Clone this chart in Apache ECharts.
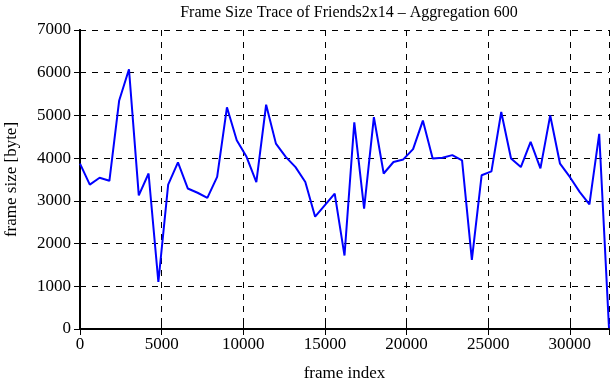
<!DOCTYPE html>
<html>
<head>
<meta charset="utf-8">
<script src="https://cdn.jsdelivr.net/npm/echarts@6/dist/echarts.min.js"></script>
<style>
html, body { margin: 0; padding: 0; background: #fff; }
#trace { width: 611px; height: 380px; }
</style>
</head>
<body>
<div id="trace"></div>
<script>
var frames = [0, 600, 1200, 1800, 2400, 3000, 3600, 4200, 4800, 5400,
    6000, 6600, 7200, 7800, 8400, 9000, 9600, 10200, 10800, 11400,
    12000, 12600, 13200, 13800, 14400, 15000, 15600, 16200, 16800, 17400,
    18000, 18600, 19200, 19800, 20400, 21000, 21600, 22200, 22800, 23400,
    24000, 24600, 25200, 25800, 26400, 27000, 27600, 28200, 28800, 29400,
    30000, 30600, 31200, 31800, 32400];
var frameSize = [3870, 3380, 3540, 3470, 5350, 6080, 3130, 3640, 1100, 3380,
    3900, 3290, 3190, 3070, 3560, 5190, 4420, 4030, 3440, 5250,
    4340, 4030, 3790, 3440, 2630, 2900, 3170, 1720, 4840, 2820,
    4960, 3640, 3910, 3970, 4210, 4880, 3990, 4010, 4070, 3950,
    1620, 3600, 3690, 5080, 3990, 3790, 4380, 3760, 5000, 3870,
    3560, 3210, 2920, 4570, 20];
var xTicks = [0, 5000, 10000, 15000, 20000, 25000, 30000];
var yTicks = [0, 1000, 2000, 3000, 4000, 5000, 6000, 7000];

var chart = echarts.init(document.getElementById('trace'));
var serif = 'Liberation Serif';
var points = frames.map(function (f, i) { return [f, frameSize[i]]; });

var hiddenAxis = {
    axisLine: { show: true, lineStyle: { color: '#000', width: 2 } },
    axisTick: { show: true, inside: true, length: 6, lineStyle: { color: '#000', width: 1 } },
    axisLabel: { show: false },
    splitLine: { show: false }
};

var option = {
    animation: false,
    backgroundColor: '#fff',
    title: {
        text: 'Frame Size Trace of Friends2x14 \u2013 Aggregation 600',
        left: 344,
        textAlign: 'center',
        top: 0,
        textStyle: { fontFamily: serif, fontWeight: 'normal', fontSize: 16, color: '#000' }
    },
    grid: { left: 80, right: 2, top: 30, bottom: 51, outerBoundsMode: 'none' },
    xAxis: [{
        type: 'value',
        min: 0,
        max: 32400,
        interval: 5000,
        name: 'frame index',
        nameLocation: 'middle',
        nameGap: 36,
        nameTextStyle: { fontFamily: serif, fontSize: 17, color: '#000' },
        axisLine: { show: true, lineStyle: { color: '#000', width: 2 } },
        axisTick: { show: true, inside: true, length: 6, lineStyle: { color: '#000' } },
        axisLabel: {
            fontFamily: serif, fontSize: 17, color: '#000', margin: 7,
            showMaxLabel: false,
            formatter: function (v) { return xTicks.indexOf(v) >= 0 ? String(v) : ''; }
        },
        splitLine: { show: true, lineStyle: { color: '#000', type: [6, 6], width: 1 } }
    }, Object.assign({
        type: 'value', position: 'top', min: 0, max: 32400, interval: 5000
    }, hiddenAxis)],
    yAxis: [{
        type: 'value',
        min: 0,
        max: 7000,
        interval: 1000,
        name: 'frame size [byte]',
        nameLocation: 'middle',
        nameGap: 60,
        nameTextStyle: { fontFamily: serif, fontSize: 17, color: '#000' },
        axisLine: { show: true, lineStyle: { color: '#000', width: 2 } },
        axisTick: { show: true, inside: true, length: 6, lineStyle: { color: '#000' } },
        axisLabel: {
            fontFamily: serif, fontSize: 17, color: '#000', margin: 9,
            formatter: function (v) { return yTicks.indexOf(v) >= 0 ? String(v) : ''; }
        },
        splitLine: { show: true, lineStyle: { color: '#000', type: [6, 6], width: 1 } }
    }, Object.assign({
        type: 'value', position: 'right', min: 0, max: 7000, interval: 1000
    }, hiddenAxis)],
    series: [{
        type: 'line',
        data: points,
        xAxisIndex: 0,
        yAxisIndex: 0,
        symbol: 'none',
        lineStyle: { color: '#0000ff', width: 2 },
        z: 5
    }]
};
chart.setOption(option);
</script>
</body>
</html>
